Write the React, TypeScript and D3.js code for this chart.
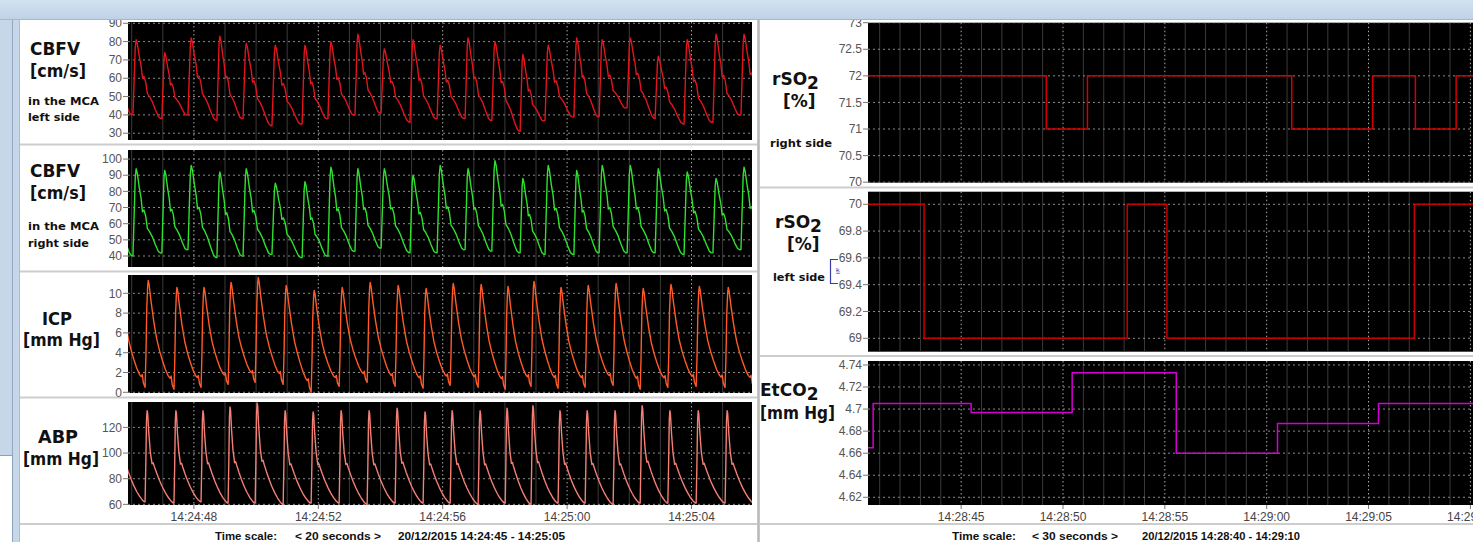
import React from "react";
import * as d3 from "d3";

// left window: seconds after 14:24:45
const leftTickSeconds = [3, 7, 11, 15, 19];
const leftTickLabels = ["14:24:48", "14:24:52", "14:24:56", "14:25:00", "14:25:04"];

// right window: seconds after 14:28:40
const rightTickSeconds = [5, 10, 15, 20, 25, 30];
const rightTickLabels = ["14:28:45", "14:28:50", "14:28:55", "14:29:00", "14:29:05", "14:29:10"];

const cbfvOnsets = [0.16, 1.04, 1.97, 2.81, 3.74, 4.58, 5.51, 6.48, 7.31, 8.18, 9.02, 9.95, 10.82, 11.72, 12.58, 13.49, 14.29, 15.22, 16.03, 16.93, 17.83, 18.76, 19.69, 20.59];
const cbfvLeftPeaks = [80, 81, 74, 82, 83, 79, 78, 78, 80, 84, 76, 81, 78, 82, 80, 73, 78, 82, 81, 82, 72, 81, 84, 84];
const cbfvLeftTroughs = [42, 40, 38, 40, 37, 38, 34, 35, 38, 40, 41, 36, 38, 38, 37, 31, 37, 39, 39, 44, 38, 35, 36, 40];
const cbfvRightPeaks = [92, 94, 93, 96, 92, 94, 85, 86, 95, 94, 94, 90, 96, 94, 99, 88, 96, 93, 96, 96, 94, 92, 88, 95];
const cbfvRightTroughs = [44, 40, 42, 44, 39, 40, 41, 39, 40, 43, 45, 42, 42, 44, 43, 42, 41, 41, 42, 42, 42, 41, 42, 44];

const abpOnsets = [0.53, 1.43, 2.36, 3.23, 4.1, 4.97, 5.87, 6.77, 7.67, 8.57, 9.47, 10.37, 11.24, 12.14, 13.01, 13.84, 14.71, 15.58, 16.48, 17.35, 18.24, 19.15, 20.08];
const abpPeaks = [135, 133, 133, 133, 136, 139, 133, 132, 133, 133, 135, 132, 133, 133, 135, 137, 133, 133, 133, 137, 133, 133, 133];
const abpTroughs = [62, 62, 61, 62, 61, 61, 60, 61, 61, 60, 61, 61, 61, 60, 61, 60, 61, 61, 60, 61, 61, 61, 61];
const icpPeaks = [11.0, 11.3, 10.6, 10.6, 11.1, 11.6, 10.8, 10.3, 10.6, 11.1, 10.8, 10.5, 11.0, 10.9, 10.7, 11.2, 10.6, 10.8, 11.0, 10.5, 10.9, 10.7, 10.6];
const icpTroughs = [0.8, 0.5, 0.3, 0.5, 0.8, 1.0, 0.8, 0.0, 0.6, 1.0, 0.6, 0.4, 0.7, 0.5, 0.3, 0.6, 0.4, 0.5, 0.7, 0.3, 0.5, 0.6, 0.5];

// one beat: [phase of period, level between trough and peak]
const cbfvShape = [[0, 0], [0.04, 0.45], [0.08, 0.9], [0.11, 1], [0.15, 0.95], [0.22, 0.78], [0.28, 0.66], [0.33, 0.5], [0.38, 0.52], [0.44, 0.45], [0.5, 0.3], [0.58, 0.26], [0.67, 0.2], [0.78, 0.1], [0.88, 0.02], [0.95, 0], [1, 0]];
const abpShape = [[0, 0], [0.025, 0.4], [0.05, 0.9], [0.07, 1], [0.09, 0.97], [0.13, 0.75], [0.18, 0.55], [0.24, 0.42], [0.28, 0.43], [0.32, 0.39], [0.4, 0.32], [0.5, 0.24], [0.6, 0.17], [0.7, 0.11], [0.8, 0.06], [0.9, 0.02], [0.97, 0], [1, 0]];
const icpShape = [[0, 0], [0.03, 0.3], [0.06, 0.75], [0.09, 0.95], [0.11, 1], [0.14, 0.96], [0.2, 0.82], [0.3, 0.62], [0.4, 0.46], [0.5, 0.35], [0.6, 0.26], [0.7, 0.18], [0.8, 0.12], [0.86, 0.1], [0.9, 0.12], [0.94, 0.04], [1, 0]];

// trend channels, value holds until the next time
const rso2RightTimes = [0, 9.18, 11.2, 21.23, 25.2, 27.3, 29.3, 31];
const rso2RightValues = [72, 71, 72, 71, 72, 71, 72, 72];
const rso2LeftTimes = [0, 3.18, 13.15, 15.1, 27.25, 31];
const rso2LeftValues = [70, 69, 70, 69, 70, 70];
const etco2Times = [0.4, 0.68, 5.49, 10.45, 15.56, 20.53, 25.49, 31];
const etco2Values = [4.665, 4.705, 4.697, 4.733, 4.66, 4.687, 4.705, 4.705];

const cbfvLeftTicks = [30, 40, 50, 60, 70, 80, 90];
const cbfvRightTicks = [40, 50, 60, 70, 80, 90, 100];
const icpTicks = [0, 2, 4, 6, 8, 10];
const abpTicks = [60, 80, 100, 120];
const rso2RightTicks = [70, 70.5, 71, 71.5, 72, 72.5, 73];
const rso2LeftTicks = [69, 69.2, 69.4, 69.6, 69.8, 70];
const etco2Ticks = [4.62, 4.64, 4.66, 4.68, 4.7, 4.72, 4.74];

type Pt = [number, number];

function beatWave(onsets: number[], peaks: number[], troughs: number[], shape: number[][]): Pt[] {
  const pts: Pt[] = [];
  onsets.forEach((t0, i) => {
    const last = i === onsets.length - 1;
    const t1 = last ? t0 + (t0 - onsets[i - 1]) : onsets[i + 1];
    const b0 = troughs[i];
    const b1 = last ? troughs[i] : troughs[i + 1];
    shape.forEach(([ph, lv]) => {
      if (ph >= 1 && !last) return;
      const base = b0 + (b1 - b0) * ph;
      pts.push([t0 + ph * (t1 - t0), base + lv * (peaks[i] - base)]);
    });
  });
  return pts;
}

const zip = (a: number[], b: number[]): Pt[] => a.map((v, i) => [v, b[i]]);

const LABEL_FONT = "'DejaVu Sans', Verdana, sans-serif";
const TICK_FONT = "'Liberation Sans', Arial, sans-serif";

interface PanelProps {
  id: string;
  x: d3.ScaleLinear<number, number>;
  x0: number;
  x1: number;
  top: number;
  bottom: number;
  domain: [number, number];
  ticks: number[];
  seconds: number[];
  major: number[];
  data: Pt[];
  color: string;
  step?: boolean;
  width?: number;
}

function Panel(p: PanelProps) {
  const y = d3.scaleLinear().domain(p.domain).range([p.bottom, p.top]);
  const line = d3
    .line<Pt>()
    .x((d) => p.x(d[0]))
    .y((d) => y(d[1]))
    .curve(p.step ? d3.curveStepAfter : d3.curveLinear);
  return (
    <g>
      <defs>
        <clipPath id={p.id}>
          <rect x={p.x0} y={p.top} width={p.x1 - p.x0} height={p.bottom - p.top} />
        </clipPath>
      </defs>
      <rect x={p.x0} y={p.top} width={p.x1 - p.x0} height={p.bottom - p.top} fill="#000" />
      <g clipPath={`url(#${p.id})`}>
        {p.seconds.map((s) => (
          <line
            key={"v" + s}
            x1={p.x(s)}
            x2={p.x(s)}
            y1={p.top}
            y2={p.bottom}
            stroke={p.major.includes(s) ? "#a8a8a8" : "#3a3a3a"}
            strokeDasharray={p.major.includes(s) ? "1.5,2.5" : undefined}
            strokeWidth={1}
          />
        ))}
        {p.ticks.map((t) => (
          <line key={"h" + t} x1={p.x0} x2={p.x1} y1={y(t)} y2={y(t)} stroke="#8a8a8a" strokeDasharray="2,3" strokeWidth={1} />
        ))}
        <path d={line(p.data) || ""} fill="none" stroke={p.color} strokeWidth={p.width ?? 1.4} strokeLinejoin="round" />
      </g>
      {p.ticks.map((t) => (
        <g key={"t" + t}>
          <line x1={p.x0 - 5} x2={p.x0} y1={y(t)} y2={y(t)} stroke="#777" />
          <text x={p.x0 - 6} y={y(t)} dy="0.35em" textAnchor="end" fontFamily={TICK_FONT} fontSize={12} fill="#555">
            {String(+t.toFixed(2))}
          </text>
        </g>
      ))}
    </g>
  );
}

function Label({ x, y, size, len, children }: { x: number; y: number; size: number; len?: number; children: React.ReactNode }) {
  return (
    <text
      x={x}
      y={y}
      fontFamily={LABEL_FONT}
      fontWeight="bold"
      fontSize={size}
      fill="#111"
      textLength={len}
      lengthAdjust={len ? "spacingAndGlyphs" : undefined}
    >
      {children}
    </text>
  );
}

function Bold({ x, len, children }: { x: number; len: number; children: React.ReactNode }) {
  return (
    <text x={x} y={539.5} textLength={len} lengthAdjust="spacingAndGlyphs">
      {children}
    </text>
  );
}

export default function App() {
  const xL = d3.scaleLinear().domain([0, 20]).range([100.6, 722.6]);
  const xR = d3.scaleLinear().domain([0, 30]).range([859.3, 1470.4]);
  const leftSeconds = d3.range(1, 22);
  const rightSeconds = d3.range(1, 31);

  const L = { x0: 128, x1: 752 };
  const R = { x0: 868, x1: 1490 };

  const cbfvL = beatWave(cbfvOnsets, cbfvLeftPeaks, cbfvLeftTroughs, cbfvShape);
  const cbfvR = beatWave(cbfvOnsets, cbfvRightPeaks, cbfvRightTroughs, cbfvShape);
  const icp = beatWave(abpOnsets, icpPeaks, icpTroughs, icpShape);
  const abp = beatWave(abpOnsets, abpPeaks, abpTroughs, abpShape);

  const common = (x: d3.ScaleLinear<number, number>, side: typeof L, seconds: number[], major: number[]) => ({
    x,
    x0: side.x0,
    x1: side.x1,
    seconds,
    major,
  });
  const cl = common(xL, L, leftSeconds, leftTickSeconds);
  const cr = common(xR, R, rightSeconds, rightTickSeconds);

  return (
    <svg width={1473} height={542} style={{ position: "absolute", left: 0, top: 0, background: "#fff" }}>
      <defs>
        <linearGradient id="band" x1="0" y1="0" x2="0" y2="1">
          <stop offset="0" stopColor="#d3e2f1" />
          <stop offset="1" stopColor="#bfd2e6" />
        </linearGradient>
      </defs>
      {/* window chrome */}
      <rect x={0} y={0} width={1473} height={542} fill="#c6d7e9" />
      <rect x={20} y={20} width={737} height={522} fill="#fff" />
      <rect x={760} y={20} width={713} height={522} fill="#fff" />
      <line x1={758.5} x2={758.5} y1={20} y2={542} stroke="#b9b9b9" strokeWidth={2} />
      <line x1={12.5} x2={12.5} y1={18} y2={455} stroke="#93a9c1" />
      <rect x={0} y={455} width={12} height={87} fill="#fff" />
      <line x1={0} x2={12} y1={455.5} y2={455.5} stroke="#8da2ba" />
      <line x1={12.5} x2={12.5} y1={455} y2={542} stroke="#8da2ba" />
      <line x1={19.5} x2={19.5} y1={20} y2={542} stroke="#aebdcc" />

      {/* row separators */}
      {[144.5, 271.5, 397.5, 524].map((yy) => (
        <line key={"ls" + yy} x1={20} x2={757} y1={yy} y2={yy} stroke="#cdcdcd" strokeWidth={2} />
      ))}
      {[187.5, 356, 524].map((yy) => (
        <line key={"rs" + yy} x1={760} x2={1473} y1={yy} y2={yy} stroke="#cdcdcd" strokeWidth={2} />
      ))}

      {/* left window */}
      <Panel id="cl1" {...cl} top={22} bottom={140} domain={[26.3, 90.7]} ticks={cbfvLeftTicks} data={cbfvL} color="#e3141c" />
      <Panel id="cl2" {...cl} top={150} bottom={267} domain={[33.2, 105.6]} ticks={cbfvRightTicks} data={cbfvR} color="#2fe02f" />
      <Panel id="cl3" {...cl} top={275} bottom={393} domain={[-0.07, 11.85]} ticks={icpTicks} data={icp} color="#ff5a28" />
      <Panel id="cl4" {...cl} top={402} bottom={505} domain={[59.5, 139.8]} ticks={abpTicks} data={abp} color="#f47f74" />

      {/* right window */}
      <Panel id="cr1" {...cr} top={22.7} bottom={182.7} domain={[69.99, 73.0]} ticks={rso2RightTicks} data={zip(rso2RightTimes, rso2RightValues)} color="#d40000" step width={1.5} />
      <Panel id="cr2" {...cr} top={191.7} bottom={351.7} domain={[68.9, 70.094]} ticks={rso2LeftTicks} data={zip(rso2LeftTimes, rso2LeftValues)} color="#c80000" step width={1.5} />
      <Panel id="cr3" {...cr} top={361} bottom={505} domain={[4.613, 4.7436]} ticks={etco2Ticks} data={zip(etco2Times, etco2Values)} color="#d400d4" step width={1.5} />

      {/* time axes */}
      {leftTickSeconds.map((s, i) => (
        <g key={"lx" + s}>
          <line x1={xL(s)} x2={xL(s)} y1={505} y2={509} stroke="#777" />
          <text x={xL(s)} y={521} textAnchor="middle" fontFamily={TICK_FONT} fontSize={12} fill="#444">
            {leftTickLabels[i]}
          </text>
        </g>
      ))}
      {rightTickSeconds.map((s, i) => (
        <g key={"rx" + s}>
          <line x1={xR(s)} x2={xR(s)} y1={505} y2={509} stroke="#777" />
          <text x={xR(s)} y={521} textAnchor="middle" fontFamily={TICK_FONT} fontSize={12} fill="#444">
            {rightTickLabels[i]}
          </text>
        </g>
      ))}

      <g fontFamily={TICK_FONT} fontWeight="bold" fontSize={11.5} fill="#111">
        <Bold x={215} len={62}>Time scale:</Bold>
        <Bold x={295} len={86}>{"< 20 seconds >"}</Bold>
        <Bold x={398} len={167}>20/12/2015 14:24:45 - 14:25:05</Bold>
        <Bold x={952} len={64}>Time scale:</Bold>
        <Bold x={1032} len={86}>{"< 30 seconds >"}</Bold>
        <Bold x={1142} len={158}>20/12/2015 14:28:40 - 14:29:10</Bold>
      </g>

      {/* channel labels */}
      <Label x={30} y={55} size={17} len={50}>CBFV</Label>
      <Label x={30} y={77} size={17} len={56}>[cm/s]</Label>
      <Label x={28} y={105} size={11} len={71}>in the MCA</Label>
      <Label x={28} y={121} size={11} len={52}>left side</Label>

      <Label x={30} y={177} size={17} len={50}>CBFV</Label>
      <Label x={30} y={199} size={17} len={56}>[cm/s]</Label>
      <Label x={28} y={230} size={11} len={71}>in the MCA</Label>
      <Label x={28} y={247} size={11} len={61}>right side</Label>

      <Label x={42} y={325} size={17} len={30}>ICP</Label>
      <Label x={23} y={346} size={17} len={77}>[mm Hg]</Label>

      <Label x={38} y={443} size={17} len={40}>ABP</Label>
      <Label x={23} y={465} size={17} len={76}>[mm Hg]</Label>

      <Label x={772} y={85} size={17}>
        rSO<tspan dy={3.5}>2</tspan>
      </Label>
      <Label x={783} y={107} size={17}>[%]</Label>
      <Label x={770} y={147} size={11} len={62}>right side</Label>

      <Label x={775} y={228} size={17}>
        rSO<tspan dy={3.5}>2</tspan>
      </Label>
      <Label x={787} y={250} size={17}>[%]</Label>
      <Label x={773} y={281} size={11} len={52}>left side</Label>
      <path d="M838,259.5 H830.5 V283.5 H838" fill="none" stroke="#3c3ca8" strokeWidth={1.2} />
      <text x={836} y={271} transform="rotate(90 836 271)" textAnchor="middle" fontFamily={TICK_FONT} fontSize={6} fill="#3c3ca8">
        all
      </text>

      <Label x={760} y={396} size={17}>
        EtCO<tspan dy={3.5}>2</tspan>
      </Label>
      <Label x={760} y={419} size={17} len={75}>[mm Hg]</Label>

      {/* title band drawn last so it crops the top tick labels */}
      <rect x={0} y={0} width={1473} height={19.5} fill="url(#band)" />
      <line x1={0} x2={1473} y1={19.5} y2={19.5} stroke="#a7b7c8" />
    </svg>
  );
}
